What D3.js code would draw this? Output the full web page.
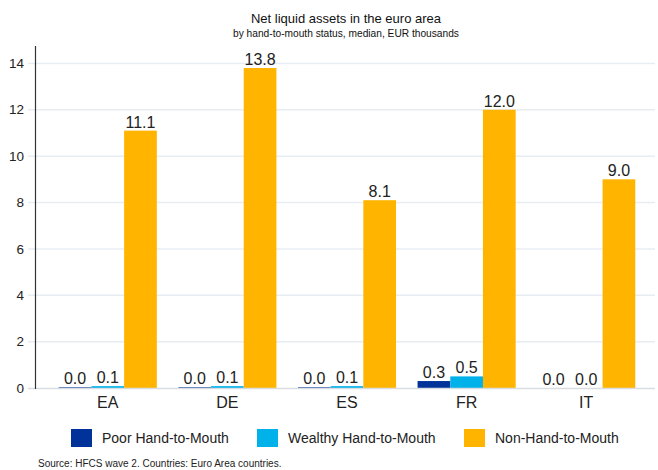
<!DOCTYPE html>
<html><head><meta charset="utf-8">
<script src="https://cdn.jsdelivr.net/npm/d3@7"></script>
<style>body{margin:0;background:#fff}svg{font-family:Arial,"Liberation Sans",sans-serif}</style>
</head><body><svg id="c" width="658" height="470"></svg>
<script>
const categories = ["EA","DE","ES","FR","IT"];
const seriesNames = ["Poor Hand-to-Mouth","Wealthy Hand-to-Mouth","Non-Hand-to-Mouth"];
const poor = [0.03, 0.03, 0.03, 0.3, 0.0];
const wealthy = [0.08, 0.08, 0.08, 0.5, 0.0];
const nonHtM = [11.1, 13.8, 8.1, 12.0, 9.0];
const yTicks = [0,2,4,6,8,10,12,14];
const colors = ["#003299","#00b1ea","#ffb400"];

const series = [poor, wealthy, nonHtM];
const svg = d3.select("#c");
const y = d3.scaleLinear().domain([0,14.75]).range([388,46]);
const x0 = d3.scaleBand().domain(categories).range([36,658]).paddingInner(0.18).paddingOuter(0.19);
const x1 = d3.scaleBand().domain(d3.range(3)).range([0,x0.bandwidth()]);

// gridlines
svg.append("g").selectAll("line").data(yTicks.slice(1)).join("line")
  .attr("x1",28).attr("x2",655).attr("y1",d=>y(d)).attr("y2",d=>y(d))
  .attr("stroke","#e8edf3").attr("stroke-width",1.5);
svg.append("g").selectAll("text").data(yTicks).join("text")
  .attr("x",24).attr("y",d=>y(d)).attr("dy","0.35em").attr("text-anchor","end")
  .attr("font-size",13.5).attr("fill","#222").text(d=>d);

// bars
const g = svg.append("g");
categories.forEach((c,i)=>{
  series.forEach((s,j)=>{
    const v = s[i];
    g.append("rect").attr("x",x0(c)+x1(j)).attr("width",x1.bandwidth())
      .attr("y",y(v)).attr("height",y(0)-y(v)).attr("fill",colors[j]);
    g.append("text").attr("x",x0(c)+x1(j)+x1.bandwidth()/2).attr("y",y(v)-3)
      .attr("text-anchor","middle").attr("font-size",16).attr("fill","#222")
      .text(v.toFixed(1));
  });
  svg.append("text").attr("x",x0(c)+x0.bandwidth()/2).attr("y",408)
    .attr("text-anchor","middle").attr("font-size",16).attr("fill","#222").text(c);
});

// axes lines
svg.append("line").attr("x1",28).attr("x2",655).attr("y1",y(0)+0.5).attr("y2",y(0)+0.5)
  .attr("stroke","#d9dde2").attr("stroke-width",1.5);
svg.append("line").attr("x1",35.5).attr("x2",35.5).attr("y1",46).attr("y2",389)
  .attr("stroke","#333").attr("stroke-width",1.2);

// title
svg.append("text").attr("x",346).attr("y",23).attr("text-anchor","middle").attr("font-size",13).attr("fill","#111").text("Net liquid assets in the euro area");
svg.append("text").attr("x",346).attr("y",37).attr("text-anchor","middle").attr("font-size",10.2).attr("fill","#111").text("by hand-to-mouth status, median, EUR thousands");

// legend
const legX = [71,257,464];
seriesNames.forEach((n,j)=>{
  svg.append("rect").attr("x",legX[j]).attr("y",429).attr("width",21).attr("height",18).attr("fill",colors[j]);
  svg.append("text").attr("x",legX[j]+31).attr("y",438).attr("dy","0.35em").attr("font-size",14).attr("fill","#222").text(n);
});
svg.append("text").attr("x",38).attr("y",467).attr("font-size",10).attr("fill","#222").text("Source: HFCS wave 2. Countries: Euro Area countries.");
</script></body></html>
